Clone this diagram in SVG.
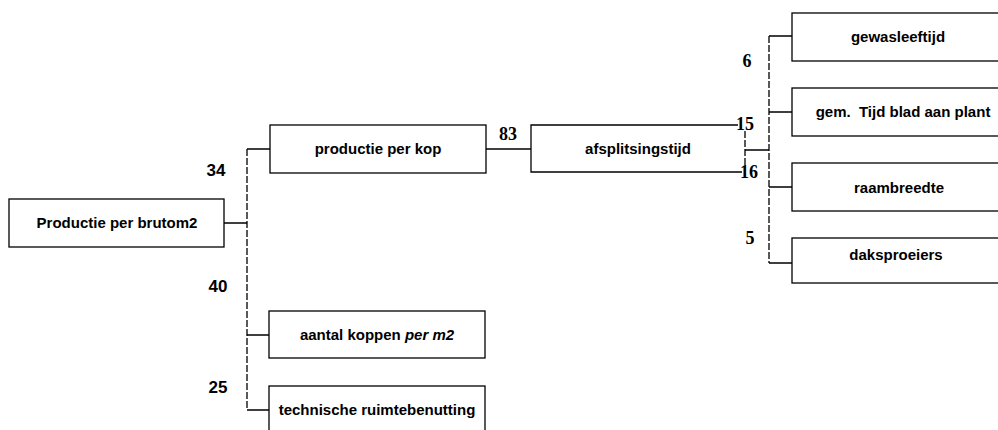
<svg xmlns="http://www.w3.org/2000/svg" width="998" height="430" viewBox="0 0 998 430">
<style>
.box{fill:#fff;stroke:#000;stroke-width:1.3}
.lbl{font-family:"Liberation Sans",Arial,sans-serif;font-weight:bold;font-size:15px;text-anchor:middle;fill:#000}
.ns{font-family:"Liberation Sans",Arial,sans-serif;font-weight:bold;font-size:17px;text-anchor:middle;fill:#000}
.nr{font-family:"Liberation Serif","Times New Roman",serif;font-weight:bold;font-size:18px;text-anchor:middle;fill:#000}
.ln{fill:none;stroke:#000;stroke-width:1.3}
.dl{fill:none;stroke:#000;stroke-width:1.3;stroke-dasharray:7 2}
</style>
<rect width="998" height="430" fill="#fff"/>
<g id="connectors">
<path class="ln" d="M224 223H247M247 149H270M247 335H269M247 410H270"/>
<path class="dl" d="M247 149V410"/>
<path class="ln" d="M486 149H531"/>
<path class="ln" d="M745 150H769M769 36H792M769 112H792M769 187H792M769 263H792"/>
<path class="dl" d="M769 36V263"/>
</g>
<g id="productie-per-brutom2">
<rect class="box" x="9" y="199" width="215" height="48"/>
<text class="lbl" x="117" y="228">Productie per brutom2</text>
</g>
<g id="productie-per-kop">
<rect class="box" x="270" y="125" width="216" height="48"/>
<text class="lbl" x="378" y="154">productie per kop</text>
</g>
<g id="aantal-koppen">
<rect class="box" x="269" y="311" width="216" height="47"/>
<text class="lbl" x="377" y="340">aantal koppen <tspan font-style="italic">per m2</tspan></text>
</g>
<g id="technische-ruimtebenutting">
<rect class="box" x="269" y="386" width="216" height="60"/>
<text class="lbl" x="377" y="415">technische ruimtebenutting</text>
</g>
<g id="afsplitsingstijd">
<path class="ln" d="M738 125H531V172H742"/>
<path class="dl" d="M745 131V166"/>
<text class="lbl" x="638" y="154">afsplitsingstijd</text>
</g>
<g id="gewasleeftijd">
<rect class="box" x="792" y="13" width="212" height="48"/>
<text class="lbl" x="898" y="42">gewasleeftijd</text>
</g>
<g id="gem-tijd">
<rect class="box" x="792" y="88" width="212" height="48"/>
<text class="lbl" x="903" y="117" xml:space="preserve">gem.  Tijd blad aan plant</text>
</g>
<g id="raambreedte">
<rect class="box" x="792" y="163" width="212" height="48"/>
<text class="lbl" x="899" y="193">raambreedte</text>
</g>
<g id="daksproeiers">
<rect class="box" x="792" y="238" width="212" height="45"/>
<text class="lbl" x="896" y="260">daksproeiers</text>
</g>
<g id="weights">
<text class="ns" x="216" y="176">34</text>
<text class="ns" x="218" y="292">40</text>
<text class="ns" x="218" y="393">25</text>
<text class="nr" x="508" y="140">83</text>
<text class="nr" x="745" y="130">15</text>
<text class="nr" x="749" y="178">16</text>
<text class="nr" x="747" y="67">6</text>
<text class="nr" x="750" y="244">5</text>
</g>
</svg>
